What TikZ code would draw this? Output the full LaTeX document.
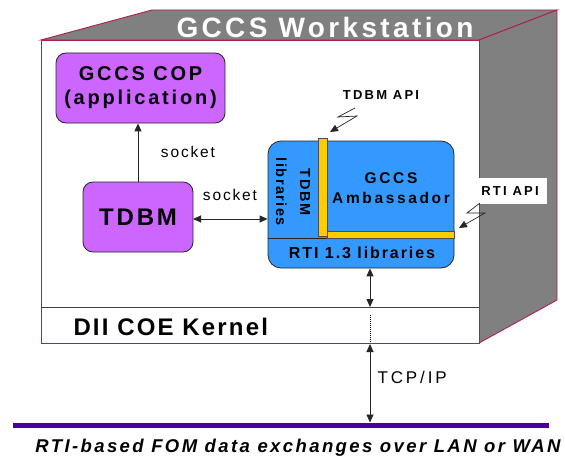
\documentclass[tikz,border=0pt]{standalone}
\usepackage{fontspec}
\setmainfont{Liberation Sans}
\newfontfamily\lsf[LetterSpace=12]{Liberation Sans}
\newfontfamily\lsfa[LetterSpace=9]{Liberation Sans}
\newfontfamily\lsfb[LetterSpace=17]{Liberation Sans}
\newfontfamily\lsfc[LetterSpace=14]{Liberation Sans}
\newfontfamily\lsfd[LetterSpace=13]{Liberation Sans}
\newfontfamily\lsfe[LetterSpace=10]{Liberation Sans}
\usetikzlibrary{arrows.meta}
\definecolor{crim}{RGB}{176,30,80}
\definecolor{cubegray}{RGB}{128,128,128}
\definecolor{violetbox}{RGB}{204,102,255}
\definecolor{bluebox}{RGB}{51,153,255}
\definecolor{yel}{RGB}{255,204,0}
\definecolor{netline}{RGB}{75,0,150}
\tikzset{
  face/.style={draw=crim, line width=0.9pt, line join=miter},
  appbox/.style={draw=black!85, line width=0.8pt, fill=violetbox, rounded corners=10pt, align=center, inner sep=0pt},
  yelbar/.style={draw=black!70, line width=0.5pt, fill=yel},
  tip/.style={-{Triangle[length=8pt,width=7pt]}},
  dtip/.style={{Triangle[length=8pt,width=7pt]}-{Triangle[length=8pt,width=7pt]}},
  conn/.style={draw=black!85, line width=0.9pt},
}
\begin{document}
\begin{tikzpicture}[x=1pt,y=-1pt]
\useasboundingbox (0,0) rectangle (565,460);
% cube
\fill[white] (0,0) rectangle (565,460);
\path[face, fill=cubegray] (41,40) -- (152,10) -- (557,10) -- (479,40) -- cycle;
\path[face, fill=cubegray] (479,40) -- (557,10) -- (557,300) -- (479,343) -- cycle;
\path[face, fill=white] (41,40) rectangle (479,343);
\draw[black!75, line width=0.9pt] (41,307) -- (479,307);
\node[white, font=\lsf\bfseries\fontsize{28}{30}\selectfont] (title) at (325,27) {GCCS Workstation};
\node[font=\lsfa\bfseries\fontsize{24}{26}\selectfont, anchor=west] (kernel) at (70,327) {DII COE Kernel};

% application boxes
\node[appbox, minimum width=169pt, minimum height=70pt, font=\lsfc\bfseries\fontsize{20}{24}\selectfont] (cop) at (140.5,88) {GCCS COP\\(application)};
\node[appbox, minimum width=110pt, minimum height=70pt, font=\lsf\bfseries\fontsize{24}{26}\selectfont] (tdbm) at (138,217) {TDBM};

% ambassador box
\node[draw=black!85, line width=0.8pt, fill=bluebox, rounded corners=13pt, minimum width=186pt, minimum height=127pt, inner sep=0pt] (amb) at (361,204.5) {};
\draw[black!85, line width=0.8pt] (amb.west |- 0,238) -- (amb.east |- 0,238);
\path[yelbar] (318,138) rectangle (327,236);
\path[yelbar] (327,231) rectangle (454,238);
\node[font=\lsfe\bfseries\fontsize{14.5}{24}\selectfont, rotate=-90, align=center] (tdbmlib) at (293,192) {TDBM\\libraries};
\node[font=\lsfb\bfseries\fontsize{15.5}{20}\selectfont, align=center] (ambtxt) at (391,188) {GCCS\\Ambassador};
\node[font=\lsf\bfseries\fontsize{16}{18}\selectfont] (rtilib) at (362,253) {RTI 1.3 libraries};

% API labels
\node[font=\lsfb\bfseries\fontsize{13}{14}\selectfont] (tdbmapi) at (381,95) {TDBM API};
\node[fill=white, minimum width=74pt, minimum height=26pt, inner sep=0pt, font=\lsfb\bfseries\fontsize{13}{14}\selectfont] (rtiapi) at (510,191) {RTI API};
\coordinate (l1a) at (355,108);
\coordinate (l1t) at (330,132);
\draw[conn, line width=0.7pt, tip] (l1a) -- (338,117) -- (357,116) -- (l1t);
\coordinate (l2a) at (480,203);
\coordinate (l2t) at (459,228);
\draw[conn, line width=0.7pt, tip] (l2a) -- (467,213) -- (485,213) -- (l2t);

% connectors
\draw[conn, tip] (tdbm.north) -- (tdbm.north |- cop.south);
\node[font=\lsf\fontsize{15.5}{18}\selectfont] (sock1) at (188,152) {socket};
\coordinate (s1) at (193,219);
\draw[conn, dtip] (s1) -- (s1 -| amb.west);
\node[font=\lsf\fontsize{15.5}{18}\selectfont] (sock2) at (230,195) {socket};

\coordinate (k1) at (370,307);
\draw[conn, dtip] (k1 |- amb.south) -- (k1);
\draw[black, line width=0.9pt, dash pattern=on 1pt off 1pt] (370,315) -- (370,342);

% network
\coordinate (n1) at (13,425);
\coordinate (n2) at (549,425);
\draw[netline, line width=5pt] (n1) -- (n2);
\coordinate (k2) at (370,344);
\draw[conn, dtip] (k2) -- (k2 |- 0,422.5);
\node[font=\lsfb\fontsize{17}{20}\selectfont, anchor=west] (tcp) at (374,377) {TCP/IP};
\node[font=\lsfd\bfseries\itshape\fontsize{18.5}{20}\selectfont] (cap) at (298,448) {RTI-based FOM data exchanges over LAN or WAN};
\end{tikzpicture}
\end{document}
